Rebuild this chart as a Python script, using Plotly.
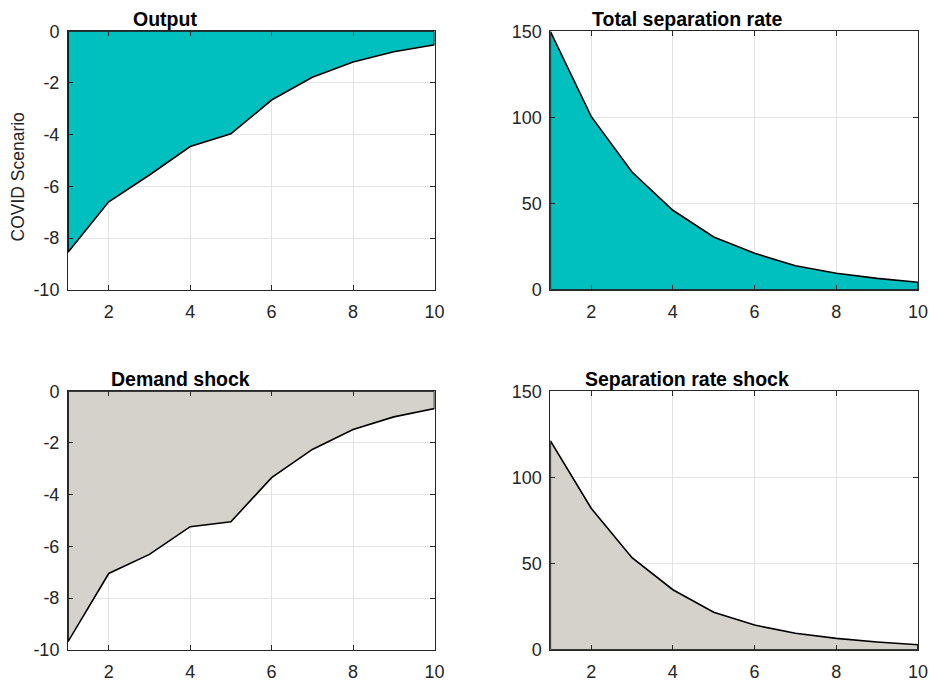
import plotly.graph_objects as go

periods = [1, 2, 3, 4, 5, 6, 7, 8, 9, 10]
output_covid = [-8.55, -6.6, -5.56, -4.46, -3.97, -2.66, -1.78, -1.19, -0.79, -0.52]
total_sep_rate = [150, 100.6, 68.3, 46.1, 30.6, 21.1, 13.9, 9.5, 6.6, 4.3]
demand_shock = [-9.69, -7.05, -6.31, -5.24, -5.05, -3.34, -2.25, -1.48, -0.99, -0.67]
sep_rate_shock = [121.3, 82.1, 53.4, 34.8, 21.7, 14.3, 9.5, 6.6, 4.5, 2.9]

titles = ["Output", "Total separation rate", "Demand shock", "Separation rate shock"]
ylabel = "COVID Scenario"
xticks = [2, 4, 6, 8, 10]
yticks_left = [0, -2, -4, -6, -8, -10]
yticks_right = [0, 50, 100, 150]

CYAN = "#00BFBF"
GRAY = "#D4D2CA"
W, H = 929, 682

def px_x(p):
    return p / W

def px_y(p):
    return 1 - p / H

panels = [
    dict(vals=output_covid, color=CYAN, xd=[68, 434.5], yd=[31.3, 289.7],
         yr=[-10, 0], yt=yticks_left, title=titles[0], tx=164.5, ty=10),
    dict(vals=total_sep_rate, color=CYAN, xd=[550.3, 918], yd=[31.3, 289.7],
         yr=[0, 150], yt=yticks_right, title=titles[1], tx=687, ty=10),
    dict(vals=demand_shock, color=GRAY, xd=[68, 434.5], yd=[391.3, 649.7],
         yr=[-10, 0], yt=yticks_left, title=titles[2], tx=180, ty=370),
    dict(vals=sep_rate_shock, color=GRAY, xd=[550.3, 918], yd=[391.3, 649.7],
         yr=[0, 150], yt=yticks_right, title=titles[3], tx=687, ty=370),
]

fig = go.Figure()
layout = dict(
    width=W, height=H, margin=dict(l=0, r=0, t=0, b=0, autoexpand=False),
    paper_bgcolor="white", plot_bgcolor="white", showlegend=False,
    font=dict(family="Liberation Sans, Arial, sans-serif", size=18, color="#262626"),
)
annotations = []
for i, p in enumerate(panels, start=1):
    xa = "x" if i == 1 else f"x{i}"
    ya = "y" if i == 1 else f"y{i}"
    xs = periods + [periods[-1], periods[0], periods[0]]
    ys = p["vals"] + [0, 0, p["vals"][0]]
    fig.add_trace(go.Scatter(
        x=xs, y=ys, mode="lines", fill="toself", fillcolor=p["color"],
        line=dict(color="black", width=1.6), xaxis=xa, yaxis=ya,
        hoverinfo="skip",
    ))
    axis_common = dict(
        showline=True, linecolor="#262626", linewidth=1, mirror="ticks",
        ticks="inside", ticklen=5, tickwidth=1, tickcolor="#262626",
        showgrid=True, gridcolor="#E3E3E3", gridwidth=1, zeroline=False,
        tickfont=dict(size=18, color="#262626"), layer="above traces",
        automargin=False,
    )
    layout["xaxis" if i == 1 else f"xaxis{i}"] = dict(
        axis_common, domain=[px_x(p["xd"][0]), px_x(p["xd"][1])],
        range=[1, 10], tickvals=xticks, ticktext=[str(v) for v in xticks],
        anchor=ya, ticklabelstandoff=6,
    )
    layout["yaxis" if i == 1 else f"yaxis{i}"] = dict(
        axis_common, domain=[px_y(p["yd"][1]), px_y(p["yd"][0])],
        range=p["yr"], tickvals=p["yt"], ticktext=[str(v) for v in p["yt"]],
        anchor=xa, ticklabelstandoff=4,
    )
    annotations.append(dict(
        text=f"<b>{p['title']}</b>", x=px_x(p["tx"]), y=px_y(p["ty"] - 4),
        xref="paper", yref="paper", xanchor="center", yanchor="top",
        showarrow=False, font=dict(size=19.5, color="black"),
    ))

annotations.append(dict(
    text=ylabel, x=px_x(17.5), y=px_y(177), xref="paper", yref="paper",
    xanchor="center", yanchor="middle", textangle=-90, showarrow=False,
    font=dict(size=17.5, color="#262626"),
))
layout["annotations"] = annotations
fig.update_layout(**layout)
fig.write_html("out.html")
